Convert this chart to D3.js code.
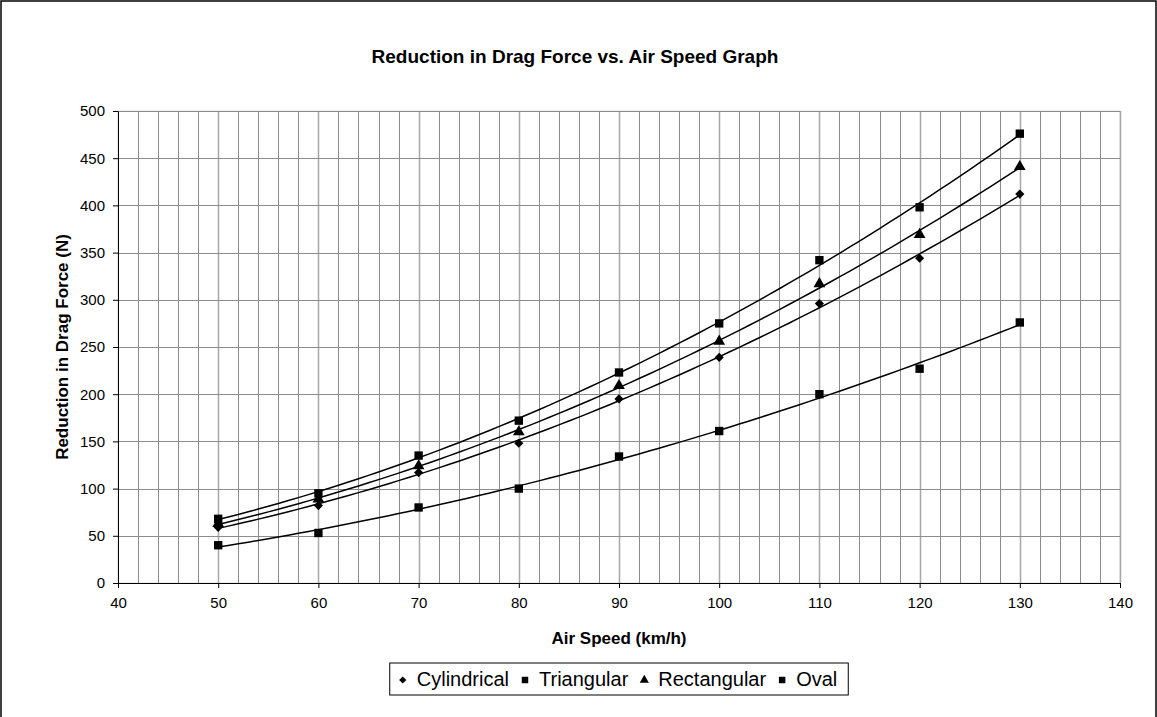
<!DOCTYPE html>
<html>
<head>
<meta charset="utf-8">
<script src="https://cdn.jsdelivr.net/npm/d3@7"></script>
<style>
  body { margin: 0; background: #fff; }
  svg { display: block; font-family: "Liberation Sans", Arial, sans-serif; }
</style>
</head>
<body>
<div id="chart-area"></div>
<script>
// chart data
const speeds = [50, 60, 70, 80, 90, 100, 110, 120, 130]
const cylindrical = [59, 82, 117, 148, 195, 239, 296, 344, 412]
const triangular = [40, 53, 80, 100, 134, 161, 200, 227, 276]
const rectangular = [63, 89, 124, 160, 209, 256, 317, 369, 441]
const oval = [68, 95, 135, 172, 223, 275, 342, 398, 476]
const seriesNames = ["Cylindrical", "Triangular", "Rectangular", "Oval"]
const seriesSymbols = ["diamond", "square", "triangle", "square"]
const xTicks = [40, 50, 60, 70, 80, 90, 100, 110, 120, 130, 140]
const yTicks = [0, 50, 100, 150, 200, 250, 300, 350, 400, 450, 500]

const W = 1157, H = 717
const MARGIN = { LEFT: 118, RIGHT: 37, TOP: 111, BOTTOM: 134 }
const WIDTH = W - MARGIN.LEFT - MARGIN.RIGHT
const HEIGHT = H - MARGIN.TOP - MARGIN.BOTTOM

const svg = d3.select("#chart-area").append("svg")
	.attr("width", W)
	.attr("height", H)

// chart border
svg.append("rect")
	.attr("x", 1).attr("y", 1)
	.attr("width", W - 2).attr("height", H + 10)
	.attr("fill", "#fff")
	.attr("stroke", "#000")
	.attr("stroke-width", 1.5)

const g = svg.append("g")
	.attr("transform", `translate(${MARGIN.LEFT}, ${MARGIN.TOP})`)

// scales
const x = d3.scaleLinear().domain([40, 140]).range([0, WIDTH])
const y = d3.scaleLinear().domain([0, 500]).range([HEIGHT, 0])

// plot area frame
g.append("rect")
	.attr("width", WIDTH).attr("height", HEIGHT)
	.attr("fill", "#fff")
	.attr("stroke", "#ddd")

// vertical gridlines every 2 units
g.append("g").selectAll("line")
	.data(d3.range(42, 141, 2))
	.join("line")
	.attr("x1", d => Math.round(x(d)) + 0.5)
	.attr("x2", d => Math.round(x(d)) + 0.5)
	.attr("y1", 0).attr("y2", HEIGHT)
	.attr("stroke", d => d % 10 === 0 ? "#a8a8a8" : "#8c8c8c")
	.attr("stroke-width", d => d % 10 === 0 ? 1.5 : 1)

// horizontal gridlines
g.append("g").selectAll("line")
	.data(yTicks.slice(1))
	.join("line")
	.attr("x1", 0).attr("x2", WIDTH)
	.attr("y1", d => Math.round(y(d)) + 0.5)
	.attr("y2", d => Math.round(y(d)) + 0.5)
	.attr("stroke", "#8c8c8c")

// axes
const xAxisCall = d3.axisBottom(x).tickValues(xTicks).tickSize(5).tickSizeOuter(0).tickPadding(9)
const yAxisCall = d3.axisLeft(y).tickValues(yTicks).tickSize(5).tickSizeOuter(0).tickPadding(8)

const xAxis = g.append("g")
	.attr("transform", `translate(0, ${HEIGHT})`)
	.call(xAxisCall)
const yAxis = g.append("g").call(yAxisCall)

for (const ax of [xAxis, yAxis]) {
	ax.attr("font-size", 15).attr("font-family", "Liberation Sans, Arial, sans-serif")
	ax.selectAll(".domain, .tick line").attr("stroke", "#000")
	ax.selectAll(".tick text").attr("fill", "#000")
}

// quadratic trendline (least squares) through each series
function quadFit(xs, ys) {
	let s = [0, 0, 0, 0, 0], t = [0, 0, 0]
	xs.forEach((xv, i) => {
		for (let k = 0; k < 5; k++) s[k] += Math.pow(xv, k)
		for (let k = 0; k < 3; k++) t[k] += ys[i] * Math.pow(xv, k)
	})
	const A = [[s[0], s[1], s[2], t[0]], [s[1], s[2], s[3], t[1]], [s[2], s[3], s[4], t[2]]]
	for (let i = 0; i < 3; i++) {
		for (let j = i + 1; j < 3; j++) {
			const f = A[j][i] / A[i][i]
			for (let k = i; k < 4; k++) A[j][k] -= f * A[i][k]
		}
	}
	const c = [0, 0, 0]
	for (let i = 2; i >= 0; i--) {
		let v = A[i][3]
		for (let k = i + 1; k < 3; k++) v -= A[i][k] * c[k]
		c[i] = v / A[i][i]
	}
	return xv => c[0] + c[1] * xv + c[2] * xv * xv
}

const allSeries = [cylindrical, triangular, rectangular, oval]

// diamond = square turned 45 degrees (Excel style, not d3's tall diamond)
const symbolType = {
	diamond: d3.symbolSquare,
	square: d3.symbolSquare,
	triangle: d3.symbolTriangle
}
const symbolRot = { diamond: 45, square: 0, triangle: 0 }
const symbolSize = { diamond: 42, square: 70, triangle: 60 }

const line = d3.line()
	.x(d => x(d[0]))
	.y(d => y(d[1]))

allSeries.forEach((vals, i) => {
	const f = quadFit(speeds, vals)
	const pts = d3.range(speeds[0], speeds[speeds.length - 1] + 0.01, 1).map(v => [v, f(v)])
	g.append("path")
		.attr("d", line(pts))
		.attr("fill", "none")
		.attr("stroke", "#000")
		.attr("stroke-width", 1.5)

	const sym = seriesSymbols[i]
	g.append("g").selectAll("path")
		.data(speeds.map((s, j) => [s, vals[j]]))
		.join("path")
		.attr("transform", d => `translate(${x(d[0])}, ${y(d[1])}) rotate(${symbolRot[sym]})`)
		.attr("d", d3.symbol().type(symbolType[sym]).size(symbolSize[sym]))
		.attr("fill", "#000")
})

// title
svg.append("text")
	.attr("x", 575).attr("y", 63)
	.attr("text-anchor", "middle")
	.attr("font-size", "19px")
	.attr("font-weight", "bold")
	.text("Reduction in Drag Force vs. Air Speed Graph")

// axis labels
svg.append("text")
	.attr("x", MARGIN.LEFT + WIDTH / 2).attr("y", 644)
	.attr("text-anchor", "middle")
	.attr("font-size", "17px")
	.attr("font-weight", "bold")
	.text("Air Speed (km/h)")

svg.append("text")
	.attr("transform", `translate(68, ${MARGIN.TOP + HEIGHT / 2}) rotate(-90)`)
	.attr("text-anchor", "middle")
	.attr("font-size", "17px")
	.attr("font-weight", "bold")
	.text("Reduction in Drag Force (N)")

// legend, items flowed by their text width and centred under the plot
const legend = svg.append("g").attr("transform", "translate(0, 663)")
const box = legend.append("rect")
	.attr("height", 32)
	.attr("fill", "#fff")
	.attr("stroke", "#000")

let cursor = 0
const items = legend.append("g")
seriesNames.forEach((name, i) => {
	const sym = seriesSymbols[i]
	const item = items.append("g").attr("transform", `translate(${cursor}, 0)`)
	item.append("path")
		.attr("transform", `translate(9, 17) rotate(${symbolRot[sym]})`)
		.attr("d", d3.symbol().type(symbolType[sym]).size(sym === "triangle" ? 36 : sym === "diamond" ? 26 : 42))
		.attr("fill", "#000")
	const label = item.append("text")
		.attr("x", 23).attr("y", 23)
		.attr("font-size", "20px")
		.text(name)
	cursor += 23 + label.node().getComputedTextLength() + 7
})
const boxW = cursor + 8
const boxX = MARGIN.LEFT + WIDTH / 2 - boxW / 2
box.attr("x", boxX).attr("width", boxW)
items.attr("transform", `translate(${boxX + 4}, 0)`)
</script>
</body>
</html>
